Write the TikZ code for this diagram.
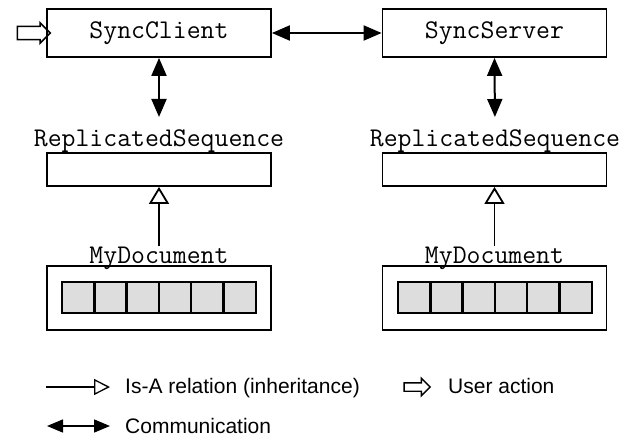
\documentclass[tikz,border=0pt]{standalone}
\usepackage{fontspec}
\setmainfont{Liberation Sans}
\usepackage{xcolor}
\usetikzlibrary{arrows.meta,shapes.arrows,positioning}
\definecolor{cellgray}{HTML}{DDDDDD}

\begin{document}
\begin{tikzpicture}[x=1pt, y=-1pt,
    % Style pour les boîtes de classes
    boxnode/.style={draw, line width=1.8pt, fill=white, minimum width=224pt, inner sep=0pt, font=\ttfamily\fontsize{27}{30}\selectfont},
    % Style pour les noms de classes au-dessus des boîtes
    labelnode/.style={inner sep=0pt, anchor=base, font=\ttfamily\fontsize{27}{30}\selectfont},
    % Style pour les cases du document
    cellnode/.style={draw, line width=2.4pt, fill=cellgray, minimum width=32.3pt, minimum height=31pt, inner sep=0pt},
    % Style pour les textes de la légende
    legendnode/.style={inner sep=0pt, anchor=base west, font=\fontsize{21}{25}\selectfont},
    % Style pour les flèches creuses (action utilisateur)
    actionnode/.style={single arrow, draw, line width=1.6pt, single arrow head extend=3.5pt, single arrow tip angle=90, inner sep=5.8pt, minimum height=33pt},
    % Styles pour les liaisons
    commedge/.style={line width=2pt, {Triangle[length=18pt,width=15pt]}-{Triangle[length=18pt,width=15pt]}},
    isaedge/.style={line width=1.8pt, -{Triangle[open,length=17pt,width=20pt,fill=white]}}
]
\useasboundingbox (0,0) rectangle (633,437);

% Client et serveur
\node[boxnode, minimum height=48pt] (client) at (159,33) {SyncClient};
\node[boxnode, minimum height=48pt] (server) at (494.5,33) {SyncServer};
\node[actionnode] (user) at (30.5,33) {};

% Séquences répliquées
\node[labelnode] (replA) at (159,146) {ReplicatedSequence};
\node[boxnode, minimum height=33pt] (seqA) at (159,169.5) {};
\node[labelnode] (replB) at (495,146) {ReplicatedSequence};
\node[boxnode, minimum height=33pt] (seqB) at (494.5,169.5) {};

% Documents
\node[boxnode, minimum height=64pt] (docA) at (159,298) {};
\node[labelnode] (mydocA) at (159,263) {MyDocument};
\node[boxnode, minimum height=64pt] (docB) at (494.5,298) {};
\node[labelnode] (mydocB) at (494.5,263) {MyDocument};
\foreach \i in {0,...,5} {
    \node[cellnode] (cellA\i) at (78.2+32.3*\i, 297.5) {};
    \node[cellnode] (cellB\i) at (414.2+32.3*\i, 297.5) {};
}

% Liaisons
\draw[commedge] (client.east) -- (server.west);
\draw[commedge, shorten >=12pt] (client.south) -- (replA.north);
\draw[commedge, shorten >=12pt] (server.south) -- (replB.north);
\draw[isaedge] (mydocA.north) -- (seqA.south);
\draw[isaedge] (mydocB.north) -- (seqB.south);

% Légende
\coordinate (isa0) at (46,387);
\coordinate (isa1) at (110,387);
\draw[line width=1.3pt, -{Triangle[open,length=16pt,width=16pt,fill=white]}] (isa0) -- (isa1);
\node[legendnode] (isatext) at (125,393) {Is-A relation (inheritance)};
\node[actionnode, inner sep=3.5pt, single arrow head extend=4.5pt, minimum height=26pt, line width=1.4pt] (userkey) at (415,387) {};
\node[legendnode] (usertext) at (448,393) {User action};
\coordinate (comm0) at (47,426);
\coordinate (comm1) at (110,426);
\draw[line width=1.5pt, {Triangle[length=16pt,width=13pt]}-{Triangle[length=16pt,width=13pt]}] (comm0) -- (comm1);
\node[legendnode] (commtext) at (125,433) {Communication};

\end{tikzpicture}
\end{document}
